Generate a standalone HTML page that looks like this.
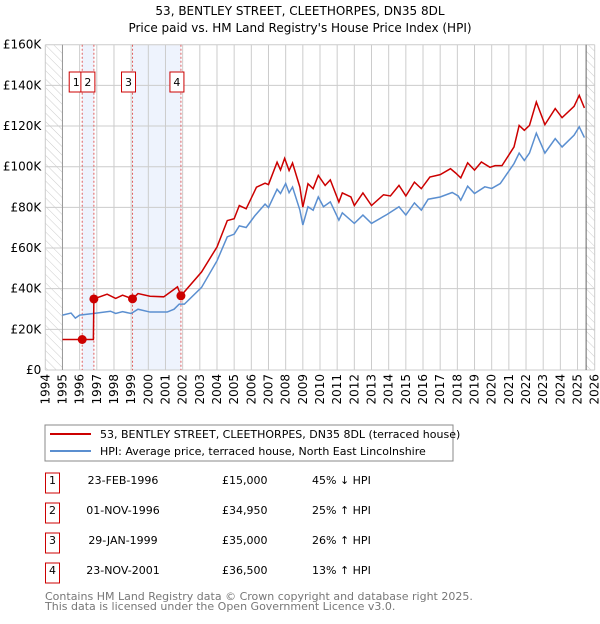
<!DOCTYPE html>
<html><head><meta charset="utf-8"><style>
body{margin:0;background:#fff;width:600px;height:620px;overflow:hidden;font-family:"DejaVu Sans","Liberation Sans",sans-serif}
svg text{font-family:"DejaVu Sans","Liberation Sans",sans-serif}
</style></head><body>
<svg id="c" width="600" height="620" xmlns="http://www.w3.org/2000/svg">
<defs><pattern id="hatch" width="6" height="6" patternUnits="userSpaceOnUse" patternTransform="rotate(-45)"><line x1="0" y1="0" x2="0" y2="6" stroke="#ccc" stroke-width="1"/></pattern></defs>
<text x="300" y="15" text-anchor="middle" font-size="12">53, BENTLEY STREET, CLEETHORPES, DN35 8DL</text>
<text x="300" y="32" text-anchor="middle" font-size="12">Price paid vs. HM Land Registry's House Price Index (HPI)</text>
<g id="plot"></g>
<rect x="45" y="425" width="408" height="36" fill="#fff" stroke="#888"/>
<line x1="50" y1="434" x2="91" y2="434" stroke="#cc0000" stroke-width="2"/>
<text x="100" y="438" font-size="11">53, BENTLEY STREET, CLEETHORPES, DN35 8DL (terraced house)</text>
<line x1="50" y1="451" x2="91" y2="451" stroke="#5b8fd0" stroke-width="2"/>
<text x="100" y="455" font-size="11">HPI: Average price, terraced house, North East Lincolnshire</text>
<g id="table" font-size="11"></g>
<text x="45" y="600" font-size="11" fill="#777">Contains HM Land Registry data © Crown copyright and database right 2025.</text>
<text x="45" y="610" font-size="11" fill="#777">This data is licensed under the Open Government Licence v3.0.</text>
</svg>
<script>
const hpiYears=[1995,1995.5,1995.75,1996,1996.8,1997.8,1998.1,1998.5,1999,1999.4,2000.1,2001.1,2001.5,2001.8,2002.1,2003.1,2004,2004.6,2005,2005.3,2005.7,2006.2,2006.8,2007,2007.5,2007.7,2008,2008.2,2008.4,2008.83,2009,2009.3,2009.6,2009.9,2010.2,2010.6,2011.1,2011.3,2012,2012.5,2013,2013.9,2014.6,2015,2015.5,2015.9,2016.3,2017,2017.7,2018.05,2018.2,2018.6,2019,2019.6,2020,2020.5,2020.9,2021.3,2021.6,2021.9,2022.2,2022.6,2023.1,2023.7,2024.1,2024.8,2025.1,2025.4];
const hpiValues=[27,28,25.5,27,27.8,28.9,27.8,28.7,27.8,29.9,28.5,28.5,29.9,32.4,32.4,40.6,53.7,65.5,66.8,70.9,70.1,75.8,81.6,79.9,88.9,86.8,91.7,87.2,90,78.6,71.3,80.3,78.6,85.1,80.3,82.7,73.7,77.3,72.1,76.2,72.1,76.5,80.3,76.2,82.2,78.6,84,85.1,87.3,85.6,83.5,90.4,86.8,90.1,89.3,91.7,96.6,101.5,106.7,103.1,106.7,116.5,106.7,113.8,109.7,115.5,119.6,114.3];
const priceYears=[1995,1996.15,1996.8,1996.83,1997.6,1998.1,1998.5,1999.08,1999.4,2000.1,2000.9,2001.7,2001.9,2003.1,2004,2004.6,2005,2005.3,2005.7,2006.3,2006.8,2007,2007.5,2007.7,2007.94,2008.2,2008.4,2008.83,2009,2009.3,2009.6,2009.9,2010.3,2010.6,2011.1,2011.3,2011.8,2012,2012.5,2013,2013.7,2014.1,2014.6,2015,2015.5,2015.9,2016.4,2017,2017.6,2017.9,2018.2,2018.6,2019,2019.4,2019.9,2020.2,2020.6,2021.3,2021.6,2021.9,2022.2,2022.6,2023.1,2023.7,2024.1,2024.8,2025.1,2025.4];
const priceValues=[15,15,15,34.95,37.3,35.2,36.8,35,37.6,36.3,36,40.9,36.5,48.2,60.5,73.5,74.4,80.9,79.3,89.9,91.9,91.2,102.2,98.4,104.1,98.1,101.8,89.9,80.1,91.6,89.2,95.7,90.8,93.5,82.6,87.1,85.1,80.9,87.1,80.9,86.2,85.6,90.8,85.6,92.4,89.2,94.9,96.1,99,96.9,94.5,101.9,98.3,102.3,99.7,100.5,100.5,109.7,120.3,117.9,120.3,131.8,120.7,128.6,124.1,129.7,135.1,128.9];
const saleLabels=["1","2","3","4"];
const saleYears=[1996.15,1996.83,1999.08,2001.9];
const salePrices=[15,34.95,35,36.5];
const saleDates=["23-FEB-1996","01-NOV-1996","29-JAN-1999","23-NOV-2001"];
const salePriceText=["£15,000","£34,950","£35,000","£36,500"];
const saleHpiText=["45% ↓ HPI","25% ↑ HPI","26% ↑ HPI","13% ↑ HPI"];
const yTicks=[0,20,40,60,80,100,120,140,160];
const yTickLabels=["£0","£20K","£40K","£60K","£80K","£100K","£120K","£140K","£160K"];
const xTicks=[1994,1995,1996,1997,1998,1999,2000,2001,2002,2003,2004,2005,2006,2007,2008,2009,2010,2011,2012,2013,2014,2015,2016,2017,2018,2019,2020,2021,2022,2023,2024,2025,2026];

const NS="http://www.w3.org/2000/svg";
const L=45.3,R=594.7,T=44.7,B=370;
const X=y=>L+(y-1994)/32*(R-L);
const Y=v=>B-v/160*(B-T);
const g=document.getElementById('plot');
function mk(tag,attrs,parent){const e=document.createElementNS(NS,tag);for(const k in attrs)e.setAttribute(k,attrs[k]);(parent||g).appendChild(e);return e;}
// hatched areas
let h1=mk('rect',{x:L,y:T,width:X(1995)-L,height:B-T,fill:'url(#hatch)'});


let h2=mk('rect',{x:X(2025.5),y:T,width:R-X(2025.5),height:B-T,fill:'url(#hatch)'});


// shaded ranges
let s1=mk('rect',{x:X(saleYears[0]),y:T,width:X(saleYears[1])-X(saleYears[0]),height:B-T,fill:'#eef3fd'});


let s2=mk('rect',{x:X(saleYears[2]),y:T,width:X(saleYears[3])-X(saleYears[2]),height:B-T,fill:'#eef3fd'});


// grid
yTicks.forEach((v,i)=>{
  let l=mk('line',{x1:L,x2:R,y1:Y(v),y2:Y(v),stroke:'#ccc','stroke-width':1});
  
  
  let t=mk('text',{x:L-4,y:Y(v)+4,'text-anchor':'end','font-size':12});
  t.textContent=yTickLabels[i];
  
  
});
xTicks.forEach(yr=>{
  let l=mk('line',{x1:X(yr),x2:X(yr),y1:T,y2:B,stroke:'#ccc','stroke-width':1});
  
  
  let t=mk('text',{x:0,y:0,'text-anchor':'end','font-size':12,transform:`translate(${X(yr)+4},${B+4}) rotate(-90)`});
  t.textContent=yr;
  
  
});
let a1=mk('line',{x1:X(1995),x2:X(1995),y1:T,y2:B,stroke:'#999'});


let a2=mk('line',{x1:X(2025.5),x2:X(2025.5),y1:T,y2:B,stroke:'#666'});


// sale lines
saleYears.forEach((yr,i)=>{
  let l=mk('line',{x1:X(yr),x2:X(yr),y1:T,y2:B,stroke:'#e06060','stroke-dasharray':'2,2','stroke-width':1});
  
  
});
// series
let hp=mk('polyline',{points:hpiYears.map((y,i)=>X(y)+','+Y(hpiValues[i])).join(' '),fill:'none',stroke:'#5b8fd0','stroke-width':1.5});


let pp=mk('polyline',{points:priceYears.map((y,i)=>X(y)+','+Y(priceValues[i])).join(' '),fill:'none',stroke:'#cc0000','stroke-width':1.5});


// sale points & boxes
const boxX=[X(saleYears[0])-6,X(saleYears[1])-6,X(saleYears[2])-4,X(saleYears[3])-4];
saleYears.forEach((yr,i)=>{
  let c=mk('circle',{cx:X(yr),cy:Y(salePrices[i]),r:4.5,fill:'#cc0000'});
  
  
  let r=mk('rect',{x:boxX[i]-7,y:72,width:14,height:20,fill:'#fff',stroke:'#cc0000'});
  
  
  let t=mk('text',{x:boxX[i],y:86,'text-anchor':'middle','font-size':11});
  t.textContent=saleLabels[i];
  
  
});
// table
const tb=document.getElementById('table');
saleLabels.forEach((s,i)=>{
  const cy=483+30*i;
  let r=mk('rect',{x:45.5,y:cy-10,width:14,height:20,fill:'#fff',stroke:'#cc0000'},tb);
  
  
  let t=mk('text',{x:52.5,y:cy+1,'text-anchor':'middle'},tb);t.textContent=s;
  
  
  let d=mk('text',{x:123,y:cy+1,'text-anchor':'middle'},tb);d.textContent=saleDates[i];
  
  
  let p=mk('text',{x:222,y:cy+1},tb);p.textContent=salePriceText[i];
  
  
  let h=mk('text',{x:312,y:cy+1},tb);h.textContent=saleHpiText[i];
  
  
});
</script>
</body></html>
